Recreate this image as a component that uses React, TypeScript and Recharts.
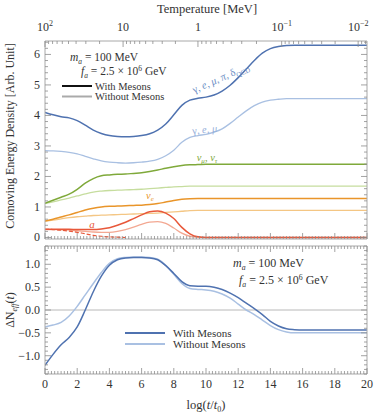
import React from 'react';
import {LineChart, Line, XAxis, YAxis, ReferenceLine} from 'recharts';

// x grid: log(t/t0)
const logTime = [0, 0.5, 1, 1.5, 2, 2.5, 3, 3.5, 4, 4.5, 5, 5.5, 6, 6.5, 7, 7.5, 8, 8.5, 9, 9.5, 10,
    10.5, 11, 11.5, 12, 12.5, 13, 13.5, 14, 14.5, 15, 15.5, 16, 16.5, 17, 17.5, 18, 18.5, 19, 19.5, 20];

// top panel: comoving energy density
const gammaWith = [4.10, 4.02, 3.96, 3.92, 3.83, 3.68, 3.52, 3.41, 3.34, 3.31, 3.30, 3.31, 3.34, 3.40, 3.52, 3.72, 4.02, 4.33, 4.50, 4.56, 4.60,
    4.67, 4.80, 4.99, 5.24, 5.52, 5.80, 6.04, 6.19, 6.26, 6.29, 6.30, 6.30, 6.30, 6.30, 6.30, 6.30, 6.30, 6.30, 6.30, 6.30];
const gammaWithout = [2.85, 2.84, 2.82, 2.79, 2.74, 2.66, 2.58, 2.51, 2.47, 2.45, 2.44, 2.45, 2.47, 2.50, 2.56, 2.68, 2.86, 3.12, 3.28, 3.34, 3.38,
    3.45, 3.56, 3.74, 3.95, 4.15, 4.32, 4.44, 4.50, 4.53, 4.55, 4.55, 4.55, 4.55, 4.55, 4.55, 4.55, 4.55, 4.55, 4.55, 4.55];
const numuWith = [1.12, 1.22, 1.32, 1.42, 1.58, 1.78, 1.93, 2.02, 2.05, 2.07, 2.08, 2.10, 2.12, 2.16, 2.21, 2.27, 2.32, 2.36, 2.38, 2.39, 2.40,
    2.40, 2.40, 2.40, 2.40, 2.40, 2.40, 2.40, 2.40, 2.40, 2.40, 2.40, 2.40, 2.40, 2.40, 2.40, 2.40, 2.40, 2.40, 2.40, 2.40];
const numuWithout = [1.12, 1.17, 1.23, 1.29, 1.36, 1.43, 1.49, 1.52, 1.54, 1.55, 1.56, 1.57, 1.58, 1.60, 1.62, 1.64, 1.66, 1.67, 1.68, 1.68, 1.68,
    1.68, 1.68, 1.68, 1.68, 1.68, 1.68, 1.68, 1.68, 1.68, 1.68, 1.68, 1.68, 1.68, 1.68, 1.68, 1.68, 1.68, 1.68, 1.68, 1.68];
const nueWith = [0.54, 0.60, 0.67, 0.74, 0.82, 0.90, 0.96, 1.00, 1.02, 1.03, 1.04, 1.05, 1.06, 1.08, 1.11, 1.16, 1.21, 1.25, 1.27, 1.28, 1.28,
    1.28, 1.28, 1.28, 1.28, 1.28, 1.28, 1.28, 1.28, 1.28, 1.28, 1.28, 1.28, 1.28, 1.28, 1.28, 1.28, 1.28, 1.28, 1.28, 1.28];
const nueWithout = [0.54, 0.57, 0.61, 0.65, 0.68, 0.70, 0.72, 0.73, 0.74, 0.75, 0.76, 0.77, 0.78, 0.79, 0.80, 0.82, 0.84, 0.86, 0.88, 0.89, 0.89,
    0.89, 0.89, 0.89, 0.89, 0.89, 0.89, 0.89, 0.89, 0.89, 0.89, 0.89, 0.89, 0.89, 0.89, 0.89, 0.89, 0.89, 0.89, 0.89, 0.89];
const axionWith = [0.27, 0.27, 0.27, 0.27, 0.26, 0.26, 0.26, 0.28, 0.32, 0.40, 0.50, 0.62, 0.74, 0.84, 0.87, 0.80, 0.62, 0.33, 0.12, 0.02, 0,
    0, 0, 0, 0, 0, 0, 0, 0, 0, 0, 0, 0, 0, 0, 0, 0, 0, 0, 0, 0];
const axionWithout = [0.26, 0.26, 0.25, 0.24, 0.22, 0.20, 0.18, 0.17, 0.17, 0.20, 0.26, 0.34, 0.43, 0.50, 0.52, 0.46, 0.31, 0.14, 0.04, 0.01, 0,
    0, 0, 0, 0, 0, 0, 0, 0, 0, 0, 0, 0, 0, 0, 0, 0, 0, 0, 0, 0];
const axionDashed = [0.27, 0.26, 0.24, 0.21, 0.17, 0.12, 0.07, 0.04, 0.02, 0.01, 0, null, null, null, null, null, null, null, null, null, null,
    null, null, null, null, null, null, null, null, null, null, null, null, null, null, null, null, null, null, null, null];

// bottom panel: Delta N_eff
const dNeffWith = [-1.21, -0.97, -0.76, -0.60, -0.37, 0.00, 0.40, 0.74, 0.98, 1.10, 1.14, 1.15, 1.15, 1.14, 1.10, 0.97, 0.80, 0.62, 0.53, 0.52, 0.52,
    0.50, 0.45, 0.37, 0.27, 0.15, 0.03, -0.10, -0.25, -0.35, -0.41, -0.43, -0.44, -0.44, -0.44, -0.44, -0.44, -0.44, -0.44, -0.44, -0.44];
const dNeffWithout = [-0.37, -0.33, -0.27, -0.13, 0.08, 0.33, 0.58, 0.82, 1.02, 1.12, 1.15, 1.16, 1.16, 1.15, 1.11, 0.98, 0.78, 0.58, 0.47, 0.45, 0.44,
    0.41, 0.35, 0.26, 0.13, 0.00, -0.10, -0.22, -0.34, -0.43, -0.48, -0.50, -0.50, -0.50, -0.50, -0.50, -0.50, -0.50, -0.50, -0.50, -0.50];

// top axis: temperature [MeV]
const tempTickPos = [0, 4.85, 9.5, 14.7, 19.45];
const tempTickBase = ['10', '10', '1', '10', '10'];
const tempTickExp = ['2', '', '', '\u22121', '\u22122'];

const topData = logTime.map((t, i) => ({
    t,
    gammaWith: gammaWith[i], gammaWithout: gammaWithout[i],
    numuWith: numuWith[i], numuWithout: numuWithout[i],
    nueWith: nueWith[i], nueWithout: nueWithout[i],
    axionWith: axionWith[i], axionWithout: axionWithout[i], axionDashed: axionDashed[i],
}));
const bottomData = logTime.map((t, i) => ({t, dNeffWith: dNeffWith[i], dNeffWithout: dNeffWithout[i]}));

const FONT = '"Liberation Serif", "DejaVu Serif", serif';
const TICK = '#8c8c8c';
const FRAME = '#a8a8a8';
const TXT = '#333';

const BLUE = '#4f72b0', BLUE_L = '#a9c0e2';
const GREEN = '#7fa93a', GREEN_L = '#c6dd9e';
const ORANGE = '#e9952a', ORANGE_L = '#f4c684';
const RED = '#e8583a', RED_L = '#f3a892';

function range(a: number, b: number, step: number) {
    const out: number[] = [];
    const n = Math.round((b - a) / step);
    for (let i = 0; i <= n; i++) out.push(Math.round((a + i * step) * 1000) / 1000);
    return out;
}
const isMult = (v: number, step: number) => Math.abs(v / step - Math.round(v / step)) < 1e-6;

const xTicks = range(0, 20, 0.2);
const topYTicks = range(0, 6.4, 0.2);
const botYTicks = range(-1.4, 1.4, 0.1);

// log minor ticks between the temperature decades
const tempTicks: number[] = [...tempTickPos];
for (let i = 0; i < tempTickPos.length; i++) {
    const d = i < tempTickPos.length - 1 ? tempTickPos[i + 1] - tempTickPos[i] : tempTickPos[i] - tempTickPos[i - 1];
    for (let k = 2; k <= 9; k++) {
        const p = tempTickPos[i] + d * (1 - Math.log10(k));
        if (p <= 20) tempTicks.push(Math.round(p * 1000) / 1000);
    }
}

const XTick = (side: 'top' | 'bottom', labels: boolean) => (props: any) => {
    const {x, y, payload} = props;
    const v = payload.value;
    const major = isMult(v, 2);
    const dir = side === 'bottom' ? -1 : 1;
    return (
        <g>
            <line x1={x} x2={x} y1={y} y2={y + dir * (major ? 6 : 3)} stroke={TICK} strokeWidth={0.8}/>
            {labels && major &&
                <text x={x} y={y + 14} textAnchor="middle" fontSize={12} fontFamily={FONT} fill={TXT}>{v}</text>}
        </g>
    );
};

const TempTick = (props: any) => {
    const {x, y, payload} = props;
    const idx = tempTickPos.findIndex((p) => Math.abs(p - payload.value) < 1e-6);
    const major = idx >= 0;
    return (
        <g>
            <line x1={x} x2={x} y1={y} y2={y + (major ? 6 : 3)} stroke={TICK} strokeWidth={0.8}/>
            {major &&
                <text x={x} y={y - 10} textAnchor="middle" fontSize={12} fontFamily={FONT} fill={TXT}>
                    {tempTickBase[idx]}
                    {tempTickExp[idx] && <tspan fontSize={8} dy={-5}>{tempTickExp[idx]}</tspan>}
                </text>}
        </g>
    );
};

const YTick = (side: 'left' | 'right', step: number, fmt: ((v: number) => string) | null) => (props: any) => {
    const {x, y, payload} = props;
    const v = payload.value;
    const major = isMult(v, step);
    const dir = side === 'left' ? 1 : -1;
    return (
        <g>
            <line x1={x} x2={x + dir * (major ? 6 : 3)} y1={y} y2={y} stroke={TICK} strokeWidth={0.8}/>
            {fmt && major &&
                <text x={x - 5} y={y + 4} textAnchor="end" fontSize={12} fontFamily={FONT} fill={TXT}>{fmt(v)}</text>}
        </g>
    );
};

const fmtInt = (v: number) => String(Math.round(v));
const fmtDec = (v: number) => v.toFixed(1).replace('-', '\u2212').replace('\u22120.0', '0.0');

const axisCommon = {tickSize: 0, tickMargin: 0, tickLine: false, interval: 0 as const, allowDataOverflow: true, axisLine: {stroke: FRAME}};

// axes are 1px thick so that Recharts still draws them; margins make up the rest
function TopPanel() {
    return (
        <LineChart width={374} height={252} data={topData} margin={{top: 40, right: 6, bottom: 12, left: 44}}>
            <XAxis xAxisId="b" dataKey="t" type="number" domain={[0, 20]} ticks={xTicks} orientation="bottom" height={1}
                   tick={XTick('bottom', false)} {...axisCommon}/>
            <XAxis xAxisId="t" dataKey="t" type="number" domain={[0, 20]} ticks={tempTicks} orientation="top" height={1}
                   tick={TempTick} {...axisCommon}/>
            <YAxis yAxisId="l" type="number" domain={[-0.05, 6.44]} ticks={topYTicks} orientation="left" width={1}
                   tick={YTick('left', 1, fmtInt)} {...axisCommon}/>
            <YAxis yAxisId="r" type="number" domain={[-0.05, 6.44]} ticks={topYTicks} orientation="right" width={1}
                   tick={YTick('right', 1, null)} {...axisCommon}/>
            <Line xAxisId="b" yAxisId="l" dataKey="gammaWithout" type="monotone" stroke={BLUE_L} strokeWidth={1.3} dot={false} isAnimationActive={false}/>
            <Line xAxisId="b" yAxisId="l" dataKey="numuWithout" type="monotone" stroke={GREEN_L} strokeWidth={1.3} dot={false} isAnimationActive={false}/>
            <Line xAxisId="b" yAxisId="l" dataKey="nueWithout" type="monotone" stroke={ORANGE_L} strokeWidth={1.3} dot={false} isAnimationActive={false}/>
            <Line xAxisId="b" yAxisId="l" dataKey="axionWithout" type="monotone" stroke={RED_L} strokeWidth={1.3} dot={false} isAnimationActive={false}/>
            <Line xAxisId="b" yAxisId="l" dataKey="axionDashed" type="monotone" stroke={RED} strokeWidth={1.2} strokeDasharray="4 2" dot={false} isAnimationActive={false}/>
            <Line xAxisId="b" yAxisId="l" dataKey="gammaWith" type="monotone" stroke={BLUE} strokeWidth={1.5} dot={false} isAnimationActive={false}/>
            <Line xAxisId="b" yAxisId="l" dataKey="numuWith" type="monotone" stroke={GREEN} strokeWidth={1.5} dot={false} isAnimationActive={false}/>
            <Line xAxisId="b" yAxisId="l" dataKey="nueWith" type="monotone" stroke={ORANGE} strokeWidth={1.5} dot={false} isAnimationActive={false}/>
            <Line xAxisId="b" yAxisId="l" dataKey="axionWith" type="monotone" stroke={RED} strokeWidth={1.5} dot={false} isAnimationActive={false}/>
        </LineChart>
    );
}

function BottomPanel() {
    return (
        <LineChart width={374} height={174} data={bottomData} margin={{top: 3, right: 6, bottom: 41, left: 44}}>
            <XAxis xAxisId="b" dataKey="t" type="number" domain={[0, 20]} ticks={xTicks} orientation="bottom" height={1}
                   tick={XTick('bottom', true)} {...axisCommon}/>
            <XAxis xAxisId="t" dataKey="t" type="number" domain={[0, 20]} ticks={xTicks} orientation="top" height={1}
                   tick={XTick('top', false)} {...axisCommon}/>
            <YAxis yAxisId="l" type="number" domain={[-1.4, 1.4]} ticks={botYTicks} orientation="left" width={1}
                   tick={YTick('left', 0.5, fmtDec)} {...axisCommon}/>
            <YAxis yAxisId="r" type="number" domain={[-1.4, 1.4]} ticks={botYTicks} orientation="right" width={1}
                   tick={YTick('right', 0.5, null)} {...axisCommon}/>
            <ReferenceLine xAxisId="b" yAxisId="l" y={0} stroke="#b8b8b8" strokeWidth={1}/>
            <Line xAxisId="b" yAxisId="l" dataKey="dNeffWithout" type="monotone" stroke={BLUE_L} strokeWidth={1.5} dot={false} isAnimationActive={false}/>
            <Line xAxisId="b" yAxisId="l" dataKey="dNeffWith" type="monotone" stroke={BLUE} strokeWidth={1.5} dot={false} isAnimationActive={false}/>
        </LineChart>
    );
}

function Params({x, y, gap, dx, size}: {x: number; y: number; gap: number; dx: number; size: number}) {
    return (
        <g fontFamily={FONT} fontSize={size} fill={TXT}>
            <text x={x} y={y}>
                <tspan fontStyle="italic">m</tspan><tspan fontStyle="italic" fontSize={size * 0.65} dy={2.5}>a</tspan>
                <tspan dy={-2.5}> = 100 MeV</tspan>
            </text>
            <text x={x + dx} y={y + gap}>
                <tspan fontStyle="italic">f</tspan><tspan fontStyle="italic" fontSize={size * 0.65} dy={2.5}>a</tspan>
                <tspan dy={-2.5}> = 2.5 × 10</tspan><tspan fontSize={size * 0.65} dy={-4}>6</tspan><tspan dy={4}> GeV</tspan>
            </text>
        </g>
    );
}

function Overlay() {
    return (
        <svg width={374} height={416} style={{position: 'absolute', left: 0, top: 0, pointerEvents: 'none'}}>
            <text x={207} y={13} textAnchor="middle" fontFamily={FONT} fontSize={12.5} fill={TXT}>Temperature [MeV]</text>
            <text transform="translate(14,136) rotate(-90)" textAnchor="middle" fontFamily={FONT} fontSize={12} fill={TXT}>
                Comoving Energy Density [Arb. Unit]
            </text>
            <text transform="translate(14,310) rotate(-90)" textAnchor="middle" fontFamily={FONT} fontSize={12} fill={TXT}>
                ΔN<tspan fontStyle="italic" fontSize={8} dy={3}>eff</tspan><tspan dy={-3}>(</tspan><tspan fontStyle="italic">t</tspan>)
            </text>
            <text x={206} y={409} textAnchor="middle" fontFamily={FONT} fontSize={12.5} fill={TXT}>
                log(<tspan fontStyle="italic">t</tspan>/<tspan fontStyle="italic">t</tspan><tspan fontSize={8} dy={3}>0</tspan><tspan dy={-3}>)</tspan>
            </text>

            <Params x={70} y={61} gap={14} dx={11} size={11.5}/>
            <line x1={62} x2={92} y1={86} y2={86} stroke="#111" strokeWidth={2}/>
            <line x1={62} x2={92} y1={96.5} y2={96.5} stroke="#aaa" strokeWidth={2}/>
            <text x={95} y={89.5} fontFamily={FONT} fontSize={10.5} fill={TXT}>With Mesons</text>
            <text x={95} y={100} fontFamily={FONT} fontSize={10.5} fill={TXT}>Without Mesons</text>

            <text transform="translate(222,81) rotate(-24)" textAnchor="middle" fontFamily={FONT} fontSize={10.5} fill="#6a8cc4">
                γ, <tspan fontStyle="italic">e</tspan>, <tspan fontStyle="italic">μ</tspan>, <tspan fontStyle="italic">π</tspan>, δ<tspan fontSize={7} dy={3}>QCD</tspan>
            </text>
            <text transform="translate(205,133) rotate(-6)" textAnchor="middle" fontFamily={FONT} fontSize={10.5} fill="#96b0da">
                γ, <tspan fontStyle="italic">e</tspan>, <tspan fontStyle="italic">μ</tspan>
            </text>
            <text x={207} y={161} textAnchor="middle" fontFamily={FONT} fontSize={10.5} fill={GREEN}>
                <tspan fontStyle="italic">ν</tspan><tspan fontStyle="italic" fontSize={7} dy={2}>μ</tspan><tspan dy={-2}>, </tspan>
                <tspan fontStyle="italic">ν</tspan><tspan fontStyle="italic" fontSize={7} dy={2}>τ</tspan>
            </text>
            <text x={150} y={199} textAnchor="middle" fontFamily={FONT} fontSize={10.5} fill={ORANGE}>
                <tspan fontStyle="italic">ν</tspan><tspan fontStyle="italic" fontSize={7} dy={2}>e</tspan>
            </text>
            <text x={92} y={228} textAnchor="middle" fontFamily={FONT} fontSize={11} fontStyle="italic" fill={RED}>a</text>

            <Params x={233} y={267} gap={17} dx={6} size={12}/>
            <line x1={125} x2={165} y1={333} y2={333} stroke={BLUE} strokeWidth={1.8}/>
            <line x1={125} x2={165} y1={344} y2={344} stroke={BLUE_L} strokeWidth={1.8}/>
            <text x={173} y={337} fontFamily={FONT} fontSize={11} fill={TXT}>With Mesons</text>
            <text x={173} y={348} fontFamily={FONT} fontSize={11} fill={TXT}>Without Mesons</text>
        </svg>
    );
}

export default function App() {
    return (
        <div style={{position: 'absolute', left: 0, top: 0, width: 374, height: 416, background: '#fff'}}>
            <div style={{position: 'absolute', left: 0, top: 0}}><TopPanel/></div>
            <div style={{position: 'absolute', left: 0, top: 242}}><BottomPanel/></div>
            <Overlay/>
        </div>
    );
}
